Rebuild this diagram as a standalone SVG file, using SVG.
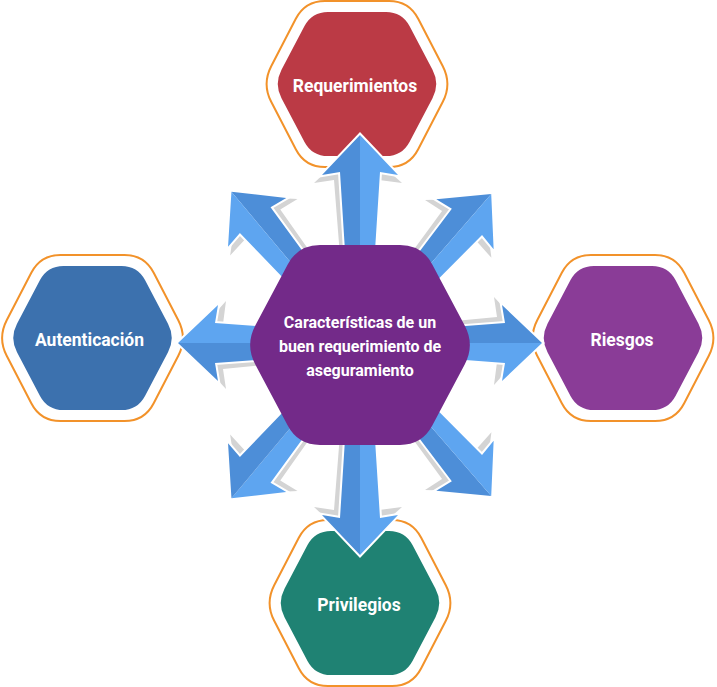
<svg xmlns="http://www.w3.org/2000/svg" xmlns:xlink="http://www.w3.org/1999/xlink" width="717" height="687" viewBox="0 0 717 687">
<style>
.lbl{font-family:Roboto,"Liberation Sans",sans-serif;font-weight:bold;font-size:17.5px;fill:#fff;text-anchor:middle}
.clbl{font-family:Roboto,"Liberation Sans",sans-serif;font-weight:bold;font-size:16px;fill:#fff;text-anchor:middle}
.ring{fill:#fff;stroke:#F2922A;stroke-width:2}
.sh{fill:#D4D4D4}
.halo{fill:#fff;stroke:#fff;stroke-width:4;stroke-linejoin:miter}
.dk{fill:#4D8ED8}
.lt{fill:#5EA5F0}
</style>
<defs>
<path id="hf" d="M-75.5,-14.2 L-52.5,-57.9 Q-45,-72 -29,-72 L29,-72 Q45,-72 52.5,-57.9 L75.5,-14.2 Q83,0 75.5,14.2 L52.5,57.9 Q45,72 29,72 L-29,72 Q-45,72 -52.5,57.9 L-75.5,14.2 Q-83,0 -75.5,-14.2 Z"/>
<path id="ho" d="M-85.8,-17.8 L-61.2,-65.2 Q-52,-83 -32,-83 L32,-83 Q52,-83 61.2,-65.2 L85.8,-17.8 Q95,0 85.8,17.8 L61.2,65.2 Q52,83 32,83 L-32,83 Q-52,83 -61.2,65.2 L-85.8,17.8 Q-95,0 -85.8,-17.8 Z"/>
<g id="a210">
<polygon class="sh" points="-3,-202 42,-162 19,-165 8,0 -13,0 -26,-165 -46,-162"/>
<polygon class="halo" points="0,-210 38,-170 20,-173 9,0 -9,0 -20,-173 -38,-170"/>
<polygon class="dk" points="0,-210 -38,-170 -20,-173 -9,0 0,0"/>
<polygon class="lt" points="0,-210 38,-170 20,-173 9,0 0,0"/>
</g>
<g id="a182">
<polygon class="sh" points="-3,-174 42,-134 19,-137 8,0 -13,0 -26,-137 -46,-134"/>
<polygon class="halo" points="0,-182 38,-142 20,-145 9,0 -9,0 -20,-145 -38,-142"/>
<polygon class="dk" points="0,-182 -38,-142 -20,-145 -9,0 0,0"/>
<polygon class="lt" points="0,-182 38,-142 20,-145 9,0 0,0"/>
</g>
<g id="a200">
<polygon class="sh" points="-3,-192 42,-152 19,-155 8,0 -13,0 -26,-155 -46,-152"/>
<polygon class="halo" points="0,-200 38,-160 20,-163 9,0 -9,0 -20,-163 -38,-160"/>
<polygon class="dk" points="0,-200 -38,-160 -20,-163 -9,0 0,0"/>
<polygon class="lt" points="0,-200 38,-160 20,-163 9,0 0,0"/>
</g>
<g id="a200s">
<polygon class="sh" points="-3,-192 42,-152 19,-155 8,0 -13,0 -26,-155 -46,-152"/>
<polygon class="halo" points="0,-200 38,-160 20,-163 9,0 -9,0 -20,-163 -38,-160"/>
<polygon class="lt" points="0,-200 -38,-160 -20,-163 -9,0 0,0"/>
<polygon class="dk" points="0,-200 38,-160 20,-163 9,0 0,0"/>
</g>
</defs>
<rect width="717" height="687" fill="#fff"/>
<g id="node-requerimientos" transform="translate(357,84)">
<use xlink:href="#ho" class="ring"/>
<use xlink:href="#hf" fill="#BB3A45"/>
<text class="lbl" x="-2" y="8">Requerimientos</text>
</g>
<g id="node-autenticacion" transform="translate(92.5,338)">
<use xlink:href="#ho" class="ring"/>
<use xlink:href="#hf" fill="#3C71AE"/>
<text class="lbl" x="-3" y="8">Autenticación</text>
</g>
<g id="node-riesgos" transform="translate(623,338)">
<use xlink:href="#ho" class="ring"/>
<use xlink:href="#hf" fill="#8A3C97"/>
<text class="lbl" x="-1" y="8">Riesgos</text>
</g>
<g id="node-privilegios" transform="translate(360,603)">
<use xlink:href="#ho" class="ring"/>
<use xlink:href="#hf" fill="#1F8273"/>
<text class="lbl" x="-1" y="8">Privilegios</text>
</g>
<g id="connectors">
<use xlink:href="#a210" transform="translate(360,345) rotate(0)"/>
<use xlink:href="#a200" transform="translate(360,345) rotate(41)"/>
<use xlink:href="#a182" transform="translate(360,343) rotate(90)"/>
<use xlink:href="#a200" transform="translate(360,345) rotate(139) scale(-1,1)"/>
<use xlink:href="#a210" transform="translate(360,345) rotate(180) scale(-1,1)"/>
<use xlink:href="#a200s" transform="translate(360,345) rotate(220)"/>
<use xlink:href="#a182" transform="translate(360,343) rotate(-90)"/>
<use xlink:href="#a200" transform="translate(360,345) rotate(-40) scale(-1,1)"/>
</g>
<g id="node-center" transform="translate(360,345)">
<path fill="#732A89" d="M-104.7,-19.4 L-72.3,-80.6 Q-62,-100 -40,-100 L40,-100 Q62,-100 72.3,-80.6 L104.7,-19.4 Q115,0 104.7,19.4 L72.3,80.6 Q62,100 40,100 L-40,100 Q-62,100 -72.3,80.6 L-104.7,19.4 Q-115,0 -104.7,-19.4 Z"/>
<text class="clbl" x="0" y="-17">Características de un</text>
<text class="clbl" x="0" y="7">buen requerimiento de</text>
<text class="clbl" x="0" y="31">aseguramiento</text>
</g>
</svg>
